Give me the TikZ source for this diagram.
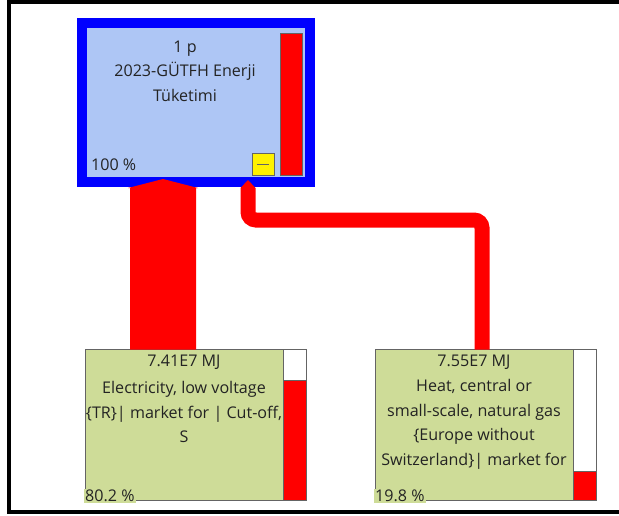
\documentclass[tikz,border=0pt]{standalone}
\usepackage{fontspec}
\setmainfont{Open Sans}
\usetikzlibrary{calc}
\definecolor{boxblue}{RGB}{174,198,245}
\definecolor{boxgreen}{RGB}{206,220,152}
\definecolor{txt}{RGB}{35,35,35}
\definecolor{edge}{RGB}{100,100,100}
\begin{document}
\begin{tikzpicture}[x=1pt,y=-1pt,
  lbl/.style={text=txt, font=\fontsize{16.1}{24.5}\selectfont, align=center, inner sep=0},
  pct/.style={text=txt, font=\fontsize{16.1}{18}\selectfont, inner sep=1pt, fill=boxgreen},
  gbox/.style={draw=edge, line width=0.8, fill=boxgreen, inner sep=0, outer sep=0, anchor=north west},
  barframe/.style={draw=edge, line width=0.8, fill=white, inner sep=0, outer sep=0, anchor=north west},
  redbar/.style={draw=edge, line width=0.8, fill=red, inner sep=0, outer sep=0, anchor=north west},
  flow/.style={fill=red, draw=none}]
\useasboundingbox (0,0) rectangle (619,515);
% outer frame
\draw[line width=3.5] (630,2) -- (9,2) -- (9,512) -- (630,512);

% top process box
\node[draw=blue, line width=10, fill=boxblue, minimum width=228, minimum height=159,
      inner sep=0, outer sep=0, anchor=north west] (top) at (82,23) {};
\node[lbl] (toplabel) at (185,71) {1 p\\2023-GÜTFH Enerji\\Tüketimi};
\node[text=txt, font=\fontsize{16.1}{18}\selectfont, inner sep=0, anchor=west] (toppct) at (91,165) {100 \%};
\node[redbar, minimum width=22, minimum height=142] (topbar) at (280,33) {};
\node[draw=edge, line width=0.8, fill=yellow, minimum width=22, minimum height=22,
      inner sep=0, outer sep=0, anchor=north west] (minus) at (252,153) {};
\draw[edge, line width=1] ($(minus.center)+(-6,0)$) -- ($(minus.center)+(6,0)$);

% bottom left box
\node[gbox, minimum width=198, minimum height=151] (elec) at (85,349) {};
\node[barframe, minimum width=23, minimum height=151] (elecbar) at (283,349) {};
\node[redbar, minimum width=23, minimum height=120] (elecfill) at (283,380) {};

% bottom right box
\node[gbox, minimum width=198, minimum height=151] (heat) at (375,349) {};
\node[barframe, minimum width=23, minimum height=151] (heatbar) at (573,349) {};
\node[redbar, minimum width=23, minimum height=29] (heatfill) at (573,471) {};

% thick flow: elec -> top
\fill[flow] ($(elec.north west)+(45,0.5)$) -- ($(elec.north west)+(45,-161)$)
  -- ($(elec.north west)+(43,-161)$) -- ($(top.south west)+(81,-3)$)
  -- ($(elec.north west)+(113,-161)$) -- ($(elec.north west)+(111,-161)$)
  -- ($(elec.north west)+(111,0.5)$) -- cycle;

% thin flow: heat -> top
\coordinate (bend) at ($(top.south west)+(166,38)$);
\draw[red, line width=15, rounded corners=8] ($(heat.north west)+(107,0.5)$) |- (bend) -- ($(top.south west)+(166,6)$);
\fill[flow] ($(top.south west)+(158.5,6)$) -- ($(top.south west)+(166,-2)$) -- ($(top.south west)+(173.5,6)$) -- cycle;

% labels of bottom boxes
\node[lbl, fill=boxgreen, inner xsep=2pt, inner ysep=1pt] (elecval) at (184,362) {7.41E7 MJ};
\node[lbl] (eleclabel) at (184,412) {Electricity, low voltage\\\{TR\}| market for | Cut-off,\\S};
\node[pct, anchor=south west] (elecpct) at (84,503) {80.2 \%};

\node[lbl, fill=boxgreen, inner xsep=2pt, inner ysep=1pt] (heatval) at (474,362) {7.55E7 MJ};
\node[lbl] (heatlabel) at (474,424.5) {Heat, central or\\small-scale, natural gas\\\{Europe without\\Switzerland\}| market for};
\node[pct, anchor=south west] (heatpct) at (374,503) {19.8 \%};
\end{tikzpicture}
\end{document}
